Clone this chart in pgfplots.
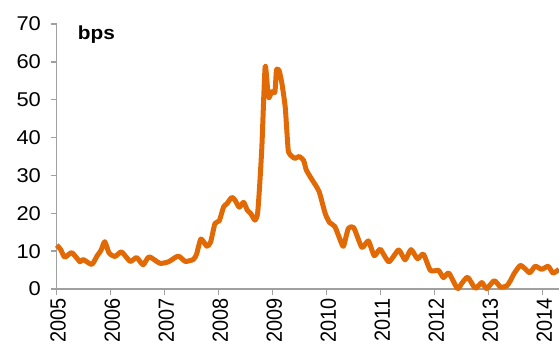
\documentclass[border=0pt]{standalone}
\usepackage{fontspec}
\setmainfont{Liberation Sans}
\usepackage{graphicx}
\usepackage{pgfplots}
\pgfplotsset{compat=1.18}
\definecolor{lineorange}{RGB}{226,106,6}
\definecolor{axisgray}{RGB}{160,160,160}

\begin{document}
\begin{tikzpicture}
\begin{axis}[
    scale only axis,
    width=502.3bp, height=265bp,
    xmin=2005, xmax=2014.3,
    ymin=0, ymax=70,
    axis lines*=left,
    axis line style={draw=axisgray, line width=1.5bp},
    tick style={draw=axisgray, line width=1.3bp},
    tick align=outside,
    major tick length=6bp,
    xtick={2005,2006,...,2014},
    ytick={0,10,...,70},
    /pgf/number format/assume math mode=true,
    /pgf/number format/1000 sep={},
    ticklabel style={font=\fontsize{20}{20}\selectfont},
    yticklabel={\scalebox{1.1}[1]{\pgfmathprintnumber{\tick}}},
    yticklabel style={xshift=-6.3bp},
    xticklabel={\scalebox{1}[1.1]{\pgfmathprintnumber{\tick}}},
    xticklabel style={rotate=90, anchor=east, yshift=-1.5bp},
    clip=false,
]
\addplot[color=lineorange, line width=5bp, line join=round, smooth, tension=0.35] coordinates {
    (2005.00,11.6) (2005.07,10.5) (2005.15,8.4) (2005.28,9.6) (2005.43,7.2)
    (2005.49,7.8) (2005.65,6.5) (2005.75,8.8) (2005.82,10.2) (2005.89,12.5)
    (2005.97,9.5) (2006.08,8.6) (2006.20,9.8) (2006.36,7.3) (2006.48,8.3)
    (2006.60,6.4) (2006.71,8.5) (2006.91,6.8) (2007.07,7.2) (2007.25,8.7)
    (2007.38,7.3) (2007.53,7.8) (2007.59,9.2) (2007.67,13.2) (2007.78,11.3)
    (2007.85,12.4) (2007.93,17.3) (2008.01,18.0) (2008.09,21.7) (2008.15,22.5)
    (2008.24,24.2) (2008.30,23.5) (2008.38,21.6) (2008.46,22.9) (2008.53,20.8)
    (2008.59,20.0) (2008.67,18.2) (2008.72,20.0) (2008.76,27.9) (2008.80,38.0)
    (2008.86,58.8) (2008.92,50.6) (2008.98,52.1) (2009.04,52.0) (2009.07,58.0)
    (2009.12,57.6) (2009.17,54.3) (2009.23,48.2) (2009.26,42.0) (2009.29,36.3)
    (2009.35,35.1) (2009.41,34.5) (2009.49,35.0) (2009.57,34.0) (2009.62,31.5)
    (2009.70,29.5) (2009.78,27.7) (2009.86,25.7) (2009.97,20.0) (2010.05,17.6)
    (2010.15,16.5) (2010.25,12.9) (2010.31,11.3) (2010.40,16.0) (2010.50,16.2)
    (2010.65,11.0) (2010.77,12.7) (2010.88,8.8) (2010.99,10.5) (2011.15,7.2)
    (2011.33,10.3) (2011.45,7.7) (2011.56,10.4) (2011.68,8.0) (2011.79,9.2)
    (2011.92,4.9) (2012.07,4.9) (2012.16,3.0) (2012.26,4.2) (2012.42,0.1)
    (2012.50,1.5) (2012.61,3.1) (2012.75,0.2) (2012.87,1.7) (2012.96,0.1)
    (2013.10,2.2) (2013.22,0.5) (2013.33,0.8) (2013.40,2.2) (2013.47,4.1)
    (2013.58,6.2) (2013.67,5.4) (2013.76,4.3) (2013.86,6.0) (2013.98,5.2)
    (2014.10,6.0) (2014.19,4.2) (2014.30,5.2)
};
\node[anchor=west, inner sep=0pt, font=\bfseries\fontsize{19}{19}\selectfont]
    at (axis cs:2005.39,67.1) {\scalebox{1.1}[1]{bps}};
\end{axis}
\pgfresetboundingbox
\path[use as bounding box] (-56.7bp,-58bp) rectangle (502.3bp,289bp);
\end{tikzpicture}
\end{document}
